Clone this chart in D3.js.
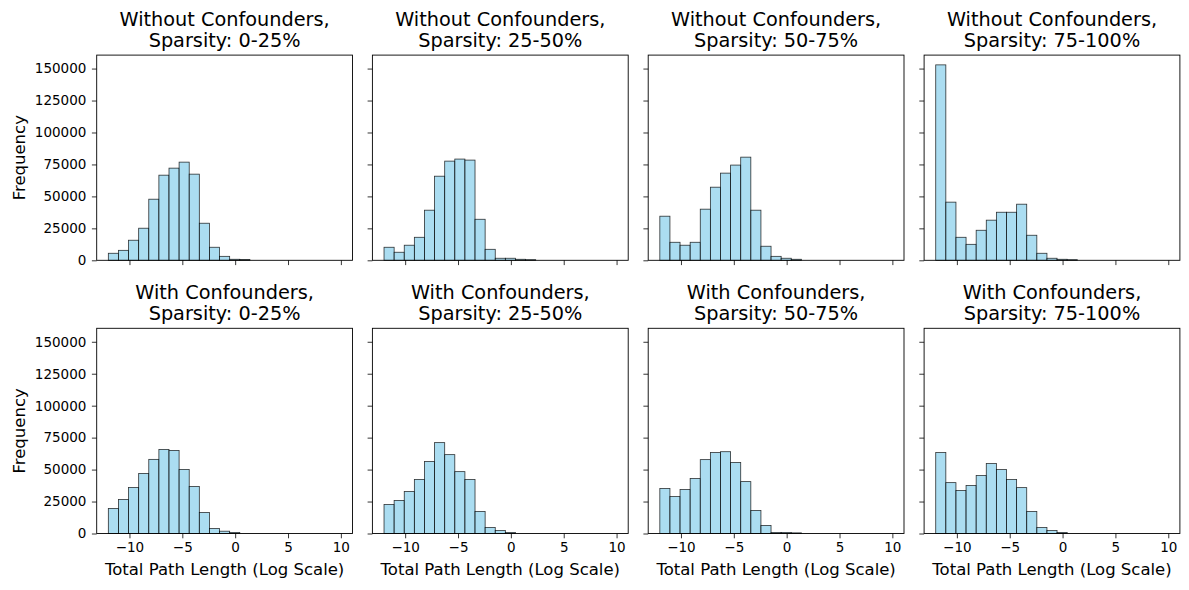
<!DOCTYPE html>
<html>
<head>
<meta charset="utf-8">
<script src="https://cdn.jsdelivr.net/npm/d3@7"></script>
<style>
  body { margin: 0; background: #fff; }
  svg text { font-family: "DejaVu Sans", sans-serif; fill: #000; }
  .axis line { stroke: #000; stroke-width: 0.8; }
  .axis path { display: none; }
</style>
</head>
<body>
<div id="chart"></div>
<script>
// ---- data ----
const rowTitles = ["Without Confounders,", "With Confounders,"];
const sparsityLabels = ["Sparsity: 0-25%", "Sparsity: 25-50%", "Sparsity: 50-75%", "Sparsity: 75-100%"];
const xTicks = [-10, -5, 0, 5, 10];
const yTicks = [0, 25000, 50000, 75000, 100000, 125000, 150000];
const binStart = -12;
const binEnd = 10;

// counts per bin (23 bins between binStart and binEnd)
const noConf_0_25   = [5500, 7800, 15700, 25100, 47800, 66600, 72100, 76800, 67400, 29000, 10200, 3100, 800, 600, 0, 0, 0, 0, 0, 0, 0, 0, 0];
const noConf_25_50  = [10200, 6300, 11800, 18000, 39200, 65800, 77600, 79200, 78400, 32100, 8600, 1600, 1600, 800, 500, 0, 0, 0, 0, 0, 0, 0, 0];
const noConf_50_75  = [34500, 14100, 11800, 14100, 40000, 57200, 68200, 74500, 80700, 39200, 11000, 3100, 1600, 800, 0, 0, 0, 0, 0, 0, 0, 0, 0];
const noConf_75_100 = [152900, 45500, 18000, 12500, 23500, 31400, 37600, 37600, 43900, 19600, 5500, 1600, 800, 500, 0, 0, 0, 0, 0, 0, 0, 0, 0];
const conf_0_25     = [19600, 26600, 36000, 47000, 58000, 65800, 65000, 50100, 36800, 16400, 3900, 1800, 800, 0, 0, 0, 0, 0, 0, 0, 0, 0, 0];
const conf_25_50    = [22700, 25800, 32800, 42200, 56300, 71100, 61700, 48400, 42200, 17200, 4700, 2300, 800, 0, 0, 0, 0, 0, 0, 0, 0, 0, 0];
const conf_50_75    = [35200, 28900, 34400, 43000, 57800, 63300, 64000, 55500, 40600, 18000, 6300, 800, 800, 500, 0, 0, 0, 0, 0, 0, 0, 0, 0];
const conf_75_100   = [63300, 39800, 33600, 37500, 45300, 54700, 50000, 42200, 35900, 17200, 4700, 2300, 800, 0, 0, 0, 0, 0, 0, 0, 0, 0, 0];

const panelData = [
  [noConf_0_25, noConf_25_50, noConf_50_75, noConf_75_100],
  [conf_0_25, conf_25_50, conf_50_75, conf_75_100]
];

// ---- layout ----
const width = 1189, height = 590;
const panelW = 255.8, panelH = 205.2;
const lefts = [96.7, 372.4, 648.2, 924.1];
const tops = [55.1, 328.3];

const svg = d3.select("#chart").append("svg")
  .attr("width", width)
  .attr("height", height);

// shared scales (sharex / sharey), matplotlib-style 5% margins
const allMax = d3.max(panelData.flat(2));
const xSpan = binEnd - binStart;
const x = d3.scaleLinear()
  .domain([binStart - 0.05 * xSpan, binEnd + 0.05 * xSpan])
  .range([0, panelW]);
const y = d3.scaleLinear()
  .domain([0, allMax * 1.05])
  .range([panelH, 0]);

const minus = d => d < 0 ? "\u2212" + Math.abs(d) : String(d);

panelData.forEach((row, r) => {
  row.forEach((counts, c) => {
    const g = svg.append("g")
      .attr("transform", `translate(${lefts[c]},${tops[r]})`);

    const nBins = counts.length;
    const bw = xSpan / nBins;
    const bins = counts.map((v, i) => ({ x0: binStart + i * bw, x1: binStart + (i + 1) * bw, v }));

    // bars
    g.selectAll("rect.bar")
      .data(bins.filter(d => d.v > 0))
      .enter().append("rect")
      .attr("class", "bar")
      .attr("x", d => x(d.x0))
      .attr("y", d => y(d.v))
      .attr("width", d => x(d.x1) - x(d.x0))
      .attr("height", d => y(0) - y(d.v))
      .attr("fill", "skyblue")
      .attr("fill-opacity", 0.7)
      .attr("stroke", "#000")
      .attr("stroke-opacity", 0.8)
      .attr("stroke-width", 0.8);

    // x axis
    const xAxis = g.append("g")
      .attr("class", "axis")
      .attr("transform", `translate(0,${panelH})`)
      .call(d3.axisBottom(x).tickValues(xTicks).tickSize(4.8).tickPadding(4.2).tickFormat(minus));
    xAxis.selectAll("text").style("font-size", "13.5px");
    if (r === 0) xAxis.selectAll("text").remove();

    // y axis
    const yAxis = g.append("g")
      .attr("class", "axis")
      .call(d3.axisLeft(y).tickValues(yTicks).tickSize(4.8).tickPadding(5.5).tickFormat(d3.format("d")));
    yAxis.selectAll("text").style("font-size", "13.5px");
    if (c !== 0) yAxis.selectAll("text").remove();

    // frame
    g.append("rect")
      .attr("width", panelW)
      .attr("height", panelH)
      .attr("fill", "none")
      .attr("stroke", "#000")
      .attr("stroke-width", 0.9);

    // title
    const title = g.append("text")
      .attr("text-anchor", "middle")
      .style("font-size", "19.3px");
    title.append("tspan").attr("x", panelW / 2).attr("y", -29.5).text(rowTitles[r]);
    title.append("tspan").attr("x", panelW / 2).attr("y", -8.5).text(sparsityLabels[c]);

    if (c === 0) {
      g.append("text")
        .attr("transform", `translate(${25 - lefts[c]},${panelH / 2}) rotate(-90)`)
        .attr("text-anchor", "middle")
        .style("font-size", "16.5px")
        .text("Frequency");
    }
    if (r === 1) {
      g.append("text")
        .attr("x", panelW / 2)
        .attr("y", 575.5 - tops[r])
        .attr("text-anchor", "middle")
        .style("font-size", "16.5px")
        .text("Total Path Length (Log Scale)");
    }
  });
});
</script>
</body>
</html>
